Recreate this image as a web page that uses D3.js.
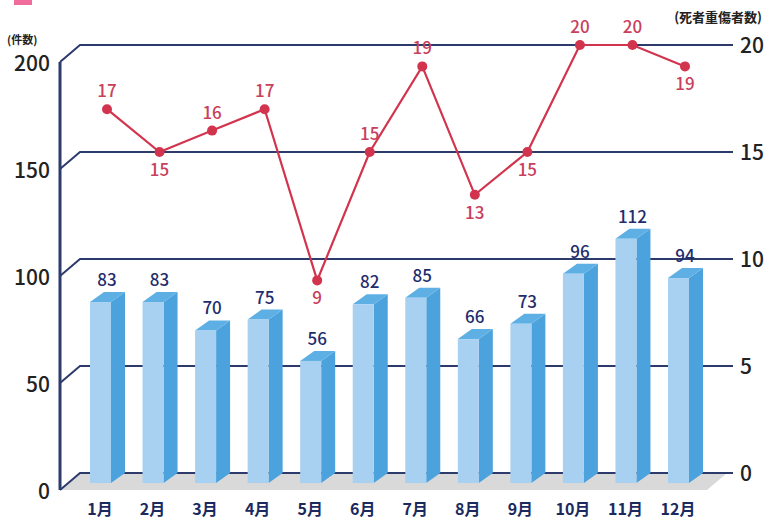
<!DOCTYPE html>
<html lang="ja">
<head>
    <meta charset="UTF-8">
    <title>月別事故件数と死者重傷者数</title>
    <script src="https://cdnjs.cloudflare.com/ajax/libs/d3/7.8.5/d3.min.js"></script>
    <style>
        body {
            margin: 0;
            background: #fff;
        }
        svg {
            display: block;
            font-family: "Noto Sans CJK JP", "Noto Sans", sans-serif;
        }
    </style>
</head>
<body>
    <svg id="svg" width="766" height="520"></svg>

    <script>
        // data
        const months = ["1月", "2月", "3月", "4月", "5月", "6月", "7月", "8月", "9月", "10月", "11月", "12月"];
        const accidents = [83, 83, 70, 75, 56, 82, 85, 66, 73, 96, 112, 94];
        const casualties = [17, 15, 16, 17, 9, 15, 19, 13, 15, 20, 20, 19];
        const leftTicks = [0, 50, 100, 150, 200];
        const rightTicks = [0, 5, 10, 15, 20];
        // where each line label sits (1 = above the dot, -1 = below)
        const labelSide = [1, -1, 1, 1, -1, 1, 1, -1, -1, 1, 1, -1];

        const svg = d3.select("#svg");

        const navy = "#2d3b6c";
        const red = "#d2344e";

        // 3d offsets of the back wall
        const wallDx = 20, wallDy = -17;
        // bar depth
        const barDx = 14, barDy = -10;

        const x = d3.scalePoint().domain(months).range([107, 685]);
        const yFront = d3.scaleLinear().domain([0, 200]).range([490, 62]);
        const yBack = d3.scaleLinear().domain([0, 200]).range([490 + wallDy, 62 + wallDy]);
        const yRight = d3.scaleLinear().domain([0, 20]).range([490 + wallDy, 62 + wallDy]);
        const yBar = d3.scaleLinear().domain([0, 200]).range([483, 47]);

        const gridEnd = 733;

        // title marker (title itself is cropped off)
        svg.append("rect")
            .attr("x", 14).attr("y", 0)
            .attr("width", 18).attr("height", 5)
            .attr("fill", "#f06c9b");

        // floor
        svg.append("path")
            .attr("d", `M60,${yFront(0)}L707,${yFront(0)}L727,${yBack(0)}L80,${yBack(0)}Z`)
            .attr("fill", "#d9d9d9");

        // gridlines on the back wall
        svg.selectAll(".grid")
            .data(leftTicks)
            .enter()
            .append("path")
            .attr("class", "grid")
            .attr("d", d => `M60,${yFront(d)}L${60 + wallDx},${yBack(d)}L${gridEnd},${yBack(d)}`)
            .attr("fill", "none")
            .attr("stroke", navy)
            .attr("stroke-width", 2);

        // left axis line
        svg.append("line")
            .attr("x1", 60).attr("x2", 60)
            .attr("y1", yFront(200)).attr("y2", yFront(0))
            .attr("stroke", navy)
            .attr("stroke-width", 3);

        // left tick labels
        svg.selectAll(".ltick")
            .data(leftTicks)
            .enter()
            .append("text")
            .attr("class", "ltick")
            .attr("x", 50)
            .attr("y", d => yFront(d) + 1)
            .attr("dy", "0.36em")
            .attr("text-anchor", "end")
            .attr("font-size", 21)
            .attr("font-weight", 500)
            .attr("fill", "#222")
            .text(d => d);

        // right tick labels
        svg.selectAll(".rtick")
            .data(rightTicks)
            .enter()
            .append("text")
            .attr("class", "rtick")
            .attr("x", 740)
            .attr("y", d => yRight(d))
            .attr("dy", "0.36em")
            .attr("text-anchor", "start")
            .attr("font-size", 21)
            .attr("font-weight", 500)
            .attr("fill", "#222")
            .text(d => d);

        // axis titles
        svg.append("text")
            .attr("x", 7).attr("y", 44)
            .attr("font-size", 11)
            .attr("font-weight", "bold")
            .attr("fill", "#222")
            .text("(件数)");

        svg.append("text")
            .attr("x", 762).attr("y", 22)
            .attr("text-anchor", "end")
            .attr("font-size", 13)
            .attr("font-weight", "bold")
            .attr("fill", "#222")
            .text("(死者重傷者数)");

        // bars
        const bars = svg.selectAll(".bar")
            .data(months.map((m, i) => ({ month: m, value: accidents[i] })))
            .enter()
            .append("g")
            .attr("class", "bar");

        bars.each(function(d) {
            const g = d3.select(this);
            const cx = x(d.month);
            const left = cx - 17;
            const right = cx + 4;
            const top = yBar(d.value);
            const base = yBar(0);

            g.append("path")
                .attr("d", `M${right},${top}L${right + barDx},${top + barDy}L${right + barDx},${base + barDy}L${right},${base}Z`)
                .attr("fill", "#4ba2dc");

            g.append("path")
                .attr("d", `M${left},${top}L${right},${top}L${right + barDx},${top + barDy}L${left + barDx},${top + barDy}Z`)
                .attr("fill", "#5eb0e4");

            g.append("rect")
                .attr("x", left)
                .attr("y", top)
                .attr("width", right - left)
                .attr("height", base - top)
                .attr("fill", "#a8d0f1");

            g.append("text")
                .attr("x", cx)
                .attr("y", top + barDy - 6)
                .attr("text-anchor", "middle")
                .attr("font-size", 17)
                .attr("font-weight", 500)
                .attr("fill", "#1f2d6e")
                .text(d.value);
        });

        // month labels
        svg.selectAll(".month")
            .data(months)
            .enter()
            .append("text")
            .attr("class", "month")
            .attr("x", d => x(d) - 7)
            .attr("y", 515)
            .attr("text-anchor", "middle")
            .attr("font-size", 16)
            .attr("font-weight", "bold")
            .attr("fill", "#1a2a5e")
            .text(d => d);

        // casualties line
        const line = d3.line()
            .x((d, i) => x(months[i]))
            .y(d => yRight(d));

        svg.append("path")
            .datum(casualties)
            .attr("d", line)
            .attr("fill", "none")
            .attr("stroke", red)
            .attr("stroke-width", 2.2);

        svg.selectAll(".dot")
            .data(casualties)
            .enter()
            .append("circle")
            .attr("class", "dot")
            .attr("cx", (d, i) => x(months[i]))
            .attr("cy", d => yRight(d))
            .attr("r", 5)
            .attr("fill", red);

        svg.selectAll(".clabel")
            .data(casualties)
            .enter()
            .append("text")
            .attr("class", "clabel")
            .attr("x", (d, i) => x(months[i]))
            .attr("y", (d, i) => yRight(d) + (labelSide[i] > 0 ? -12 : 24))
            .attr("text-anchor", "middle")
            .attr("font-size", 17)
            .attr("font-weight", 500)
            .attr("fill", "#c8405c")
            .text(d => d);
    </script>
</body>
</html>
